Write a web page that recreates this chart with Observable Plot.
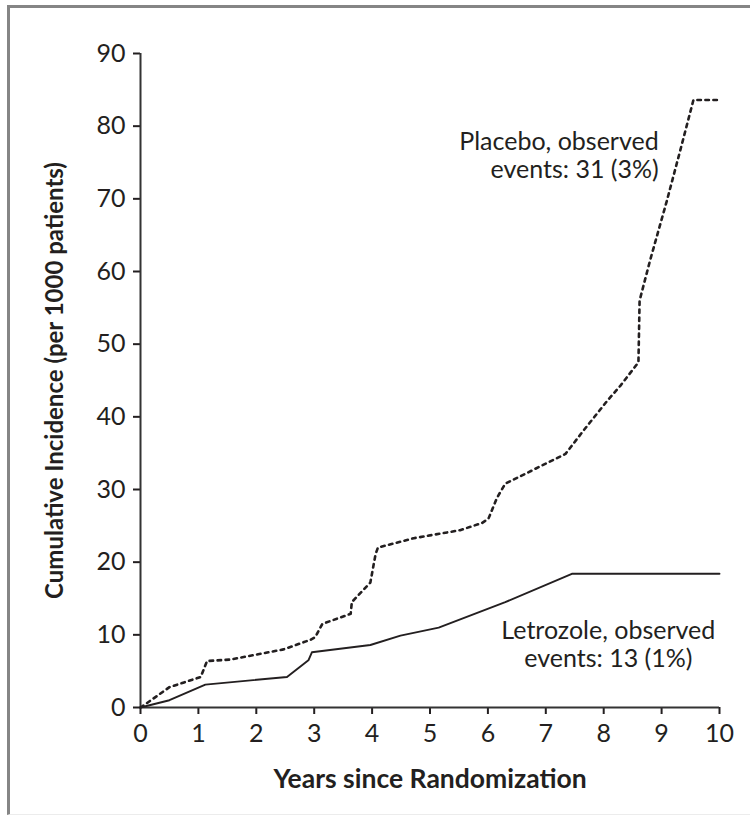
<!DOCTYPE html>
<html>
<head>
<meta charset="utf-8">
<script src="https://cdn.jsdelivr.net/npm/d3@7"></script>
<script src="https://cdn.jsdelivr.net/npm/@observablehq/plot@0.6"></script>
<style>
  html, body { margin: 0; padding: 0; background: #fff; }
  #page { position: relative; width: 750px; height: 820px; overflow: hidden; }
  #border {
    position: absolute; left: 7px; top: 5px; width: 780px; height: 810px;
    border-top: 3px solid #858585; border-left: 3px solid #858585;
    border-bottom: 1px solid #ececec; box-sizing: border-box;
  }
  #chart { position: absolute; left: 0; top: 0; }
  #chart svg { background: transparent; }
</style>
</head>
<body>
<div id="page">
  <div id="border"></div>
  <div id="chart"></div>
</div>
<script>
// Cumulative incidence (per 1000 patients) by years since randomization
const letrozoleYears = [0, 0.5, 1.12, 2.53, 2.9, 2.96, 3.97, 4.49, 5.15, 6.3, 7.45, 10];
const letrozoleIncidence = [0, 1.0, 3.15, 4.2, 6.5, 7.6, 8.6, 9.9, 11.0, 14.5, 18.4, 18.4];

const placeboYears = [0, 0.11, 0.5, 1.04, 1.15, 1.55, 2.47, 2.93, 3.02, 3.14, 3.63, 3.65, 3.97, 4.06, 4.1,
  4.72, 5.52, 5.9, 6.01, 6.16, 6.3, 7.34, 7.65, 8.06, 8.29, 8.6, 8.62, 8.8, 9.09, 9.32, 9.55, 10];
const placeboIncidence = [0, 0.6, 2.8, 4.2, 6.4, 6.6, 8.0, 9.3, 9.7, 11.5, 12.9, 14.5, 17.2, 21.1, 22.0,
  23.3, 24.4, 25.4, 26.0, 28.9, 30.8, 34.9, 38.1, 42.2, 44.3, 47.5, 56.0, 61.5, 69.7, 76.6, 83.6, 83.6];

const xTicks = [0, 1, 2, 3, 4, 5, 6, 7, 8, 9, 10];
const yTicks = [0, 10, 20, 30, 40, 50, 60, 70, 80, 90];

const placeboLabel = "Placebo, observed\nevents: 31 (3%)";
const letrozoleLabel = "Letrozole, observed\nevents: 13 (1%)";

const letrozole = letrozoleYears.map((x, i) => ({x, y: letrozoleIncidence[i]}));
const placebo = placeboYears.map((x, i) => ({x, y: placeboIncidence[i]}));

const ink = "#231f20";

const chart = Plot.plot({
  width: 750,
  height: 820,
  marginLeft: 140,
  marginRight: 31,
  marginTop: 53,
  marginBottom: 113,
  style: {fontFamily: "Lato, 'Open Sans', sans-serif", fontSize: "25px", color: ink, background: "transparent"},
  x: {domain: [0, 10]},
  y: {domain: [0, 90]},
  marks: [
    Plot.axisX({
      ticks: xTicks, tickSize: 7, tickPadding: 10, strokeWidth: 2,
      tickFormat: d => String(d), fontSize: 25, label: null
    }),
    Plot.axisX({
      ticks: [], label: "Years since Randomization", labelAnchor: "center", labelArrow: "none",
      labelOffset: 80, fontSize: 26.5, fontWeight: "bold"
    }),
    Plot.axisY({
      ticks: yTicks, tickSize: 7, tickPadding: 8, strokeWidth: 2,
      tickFormat: d => String(d), fontSize: 25, label: null
    }),
    Plot.axisY({
      ticks: [], label: "Cumulative Incidence (per 1000 patients)", labelAnchor: "center", labelArrow: "none",
      labelOffset: 95, fontSize: 24, fontWeight: "bold"
    }),
    Plot.ruleX([0], {y1: 0, y2: 90, stroke: "#333", strokeWidth: 2}),
    Plot.ruleY([0], {x1: 0, x2: 10, stroke: "#333", strokeWidth: 2}),
    Plot.line(letrozole, {x: "x", y: "y", stroke: ink, strokeWidth: 1.9}),
    Plot.line(placebo, {x: "x", y: "y", stroke: ink, strokeWidth: 2.6, strokeDasharray: "3.5,4.5"}),
    Plot.text([placeboLabel], {
      x: 8.95, y: 76.0, text: d => d, textAnchor: "end", lineAnchor: "middle",
      lineHeight: 1.1, fontSize: 25, fill: ink
    }),
    Plot.text([letrozoleLabel], {
      x: 8.08, y: 8.7, text: d => d, textAnchor: "middle", lineAnchor: "middle",
      lineHeight: 1.12, fontSize: 25, fill: ink
    })
  ]
});

document.getElementById("chart").appendChild(chart);
</script>
</body>
</html>
